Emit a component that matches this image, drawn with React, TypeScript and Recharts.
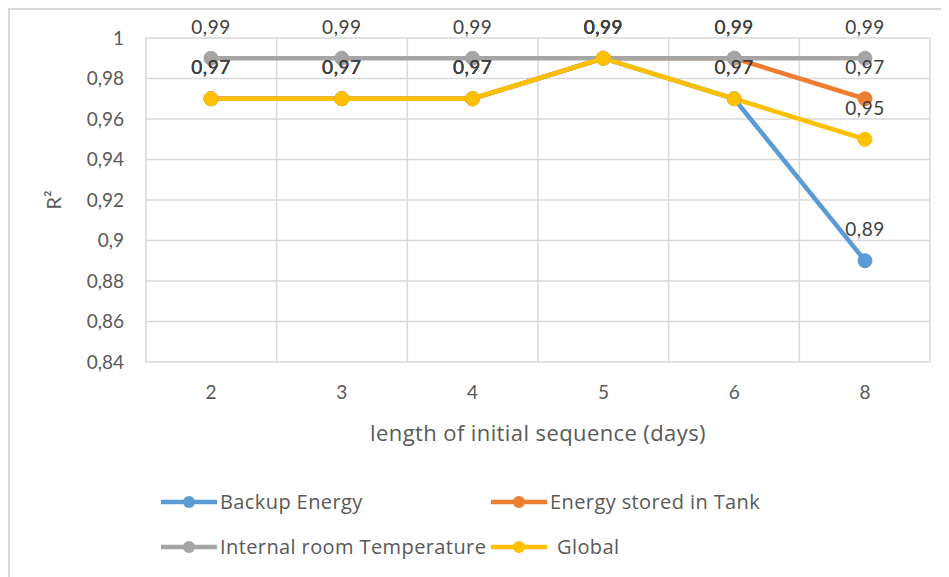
import React from 'react';
import { LineChart, Line, XAxis, YAxis, CartesianGrid, LabelList, Legend } from 'recharts';

const categories = ['2', '3', '4', '5', '6', '8'];
const backupEnergy = [0.97, 0.97, 0.97, 0.99, 0.97, 0.89];
const energyStoredInTank = [0.97, 0.97, 0.97, 0.99, 0.99, 0.97];
const internalRoomTemperature = [0.99, 0.99, 0.99, 0.99, 0.99, 0.99];
const globalR2 = [0.97, 0.97, 0.97, 0.99, 0.97, 0.95];
const yTicks = [0.84, 0.86, 0.88, 0.9, 0.92, 0.94, 0.96, 0.98, 1];

const seriesNames = ['Backup Energy', 'Energy stored in Tank', 'Internal room Temperature', 'Global'];
const seriesKeys = ['backup', 'tank', 'temp', 'global'];
const seriesColors = ['#5B9BD5', '#ED7D31', '#A5A5A5', '#FFC000'];

const xTitle = 'length of initial sequence (days)';
const yTitle = 'R²';

const data = categories.map((c, i) => ({
  cat: c,
  backup: backupEnergy[i],
  tank: energyStoredInTank[i],
  temp: internalRoomTemperature[i],
  global: globalR2[i],
}));

const FONT = 'Lato, "Open Sans", sans-serif';
const WIDE = '"Open Sans", Lato, sans-serif';
const fmt = (v: number) => String(v).replace('.', ',');

const W = 941;
const H = 569;

const renderDataLabel = (props: any) => {
  const { x, y, value } = props;
  return (
    <text x={x} y={y - 32} textAnchor="middle" dominantBaseline="central" fill="#404040" fontSize={19} fontFamily={FONT} letterSpacing={0.5}>
      {fmt(value)}
    </text>
  );
};

const LegendIcon = ({ color }: { color: string }) => (
  <svg width={56} height={16} style={{ display: 'block' }}>
    <line x1={0} y1={8} x2={56} y2={8} stroke={color} strokeWidth={4.5} strokeLinecap="round" />
    <circle cx={28} cy={8} r={6} fill={color} />
  </svg>
);

const renderLegend = () => (
  <div style={{ display: 'grid', gridTemplateColumns: '330px 330px', gridAutoRows: '45px', fontFamily: WIDE }}>
    {seriesNames.map((n, i) => (
      <div key={n} style={{ display: 'flex', alignItems: 'center', color: '#595959', fontSize: 20, letterSpacing: 0.4 }}>
        <LegendIcon color={seriesColors[i]} />
        <span style={{ marginLeft: n === 'Global' ? 10 : 3, whiteSpace: 'nowrap' }}>{n}</span>
      </div>
    ))}
  </div>
);

export default function App() {
  return (
    <div style={{ width: W, height: H, overflow: 'hidden', position: 'relative' }}>
      <div style={{ position: 'absolute', left: 0, top: 0, width: W + 40, height: H + 40, border: '2px solid #D9D9D9', boxSizing: 'border-box', background: '#fff' }} />
      <div style={{ position: 'absolute', left: 0, top: 0 }}>
        <LineChart width={W} height={H} data={data} margin={{ top: 30, right: 19, left: 0, bottom: 185 }}>
          <CartesianGrid
            stroke="#D9D9D9"
            strokeWidth={1.5}
            verticalCoordinatesGenerator={({ offset }: any) =>
              Array.from({ length: categories.length + 1 }, (_, i) => offset.left + (i * offset.width) / categories.length)
            }
          />
          <XAxis
            dataKey="cat"
            axisLine={false}
            tickLine={false}
            tickSize={0}
            tickMargin={24}
            padding={{ left: 65, right: 65 }}
            height={30}
            tick={{ fill: '#595959', fontSize: 19, fontFamily: FONT }}
            label={{
              content: (p: any) => {
                const vb = p.viewBox;
                return (
                  <text x={vb.x + vb.width / 2} y={vb.y + 70} textAnchor="middle" dominantBaseline="central" fill="#595959" fontSize={22} fontFamily={WIDE} letterSpacing={0.4}>
                    {xTitle}
                  </text>
                );
              },
            }}
          />
          <YAxis
            type="number"
            domain={[0.84, 1]}
            ticks={yTicks}
            interval={0}
            width={138}
            axisLine={false}
            tickLine={false}
            tickSize={0}
            tickMargin={22}
            tickFormatter={fmt}
            tick={{ fill: '#595959', fontSize: 19, fontFamily: FONT }}
            label={{
              content: (p: any) => {
                const vb = p.viewBox;
                const cx = vb.x + 45;
                const cy = vb.y + vb.height / 2;
                return (
                  <text x={cx} y={cy} transform={`rotate(-90 ${cx} ${cy})`} textAnchor="middle" dominantBaseline="central" fill="#595959" fontSize={20} fontFamily={FONT}>
                    {yTitle}
                  </text>
                );
              },
            }}
          />
          <Legend
            layout="horizontal"
            verticalAlign="middle"
            align="center"
            content={renderLegend}
            wrapperStyle={{ left: 153, top: 471, width: 700 }}
          />
          {seriesKeys.map((k, i) => (
            <Line
              key={k}
              type="linear"
              dataKey={k}
              name={seriesNames[i]}
              stroke={seriesColors[i]}
              strokeWidth={4.5}
              dot={{ r: 7, fill: seriesColors[i], stroke: seriesColors[i], strokeWidth: 1 }}
              activeDot={false}
              isAnimationActive={false}
            >
              <LabelList dataKey={k} content={renderDataLabel} />
            </Line>
          ))}
        </LineChart>
      </div>
    </div>
  );
}
